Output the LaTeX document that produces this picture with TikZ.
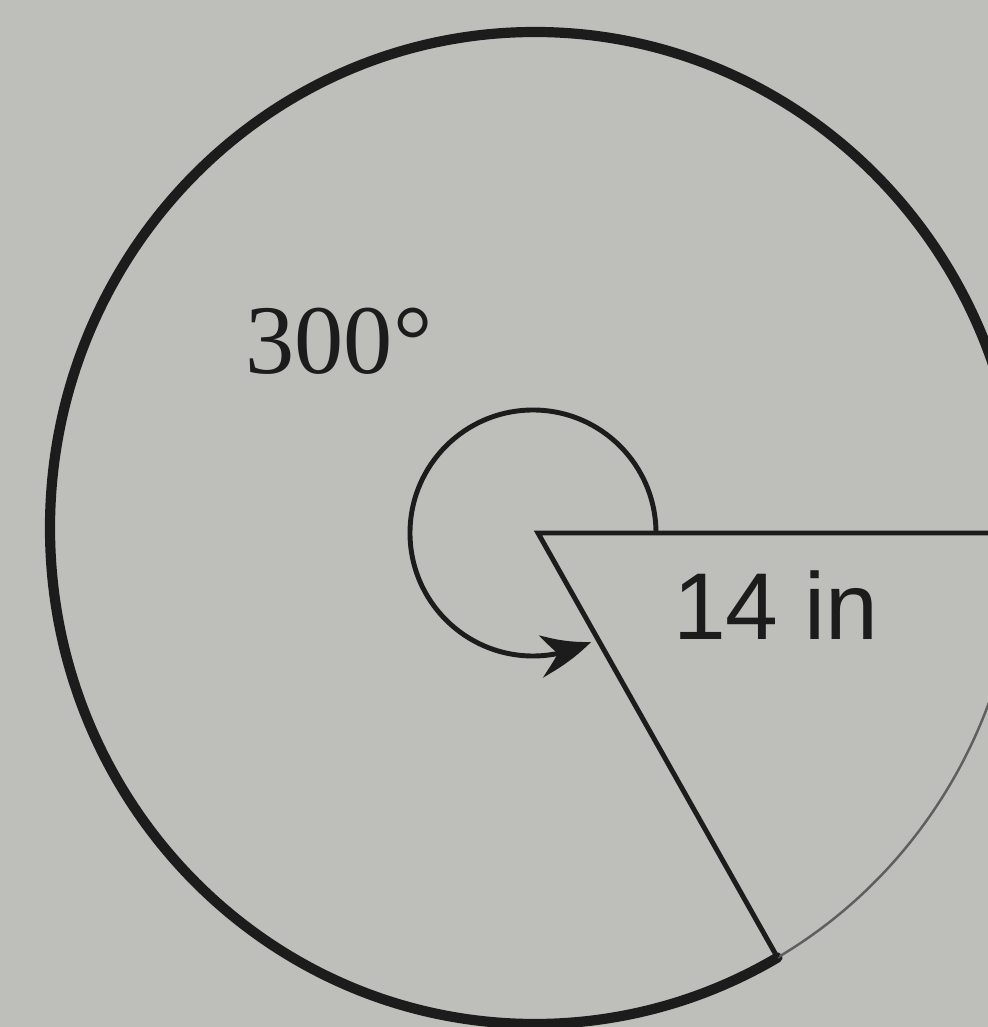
\documentclass[tikz,border=0pt]{standalone}
\usepackage{fontspec}
\setmainfont{Liberation Serif}
\newfontfamily\labelsans{Liberation Sans}
\usetikzlibrary{arrows.meta,bending,calc}
\definecolor{paper}{RGB}{190,190,187}
\definecolor{ink}{RGB}{28,28,28}
\definecolor{faint}{RGB}{95,95,95}
\tikzset{
  rim/.style={draw=ink,line width=2.9pt,line cap=round},
  rimthin/.style={draw=faint,line width=0.7pt},
  radiusline/.style={draw=ink,line width=1.4pt,line join=miter},
  anglearc/.style={draw=ink,line width=1.4pt,-{Stealth[length=5.2mm,width=4.2mm,bend]}},
  serlabel/.style={inner sep=0pt,text=ink,font=\fontsize{28}{30}\selectfont},
  sanslabel/.style={inner sep=0pt,text=ink,font=\labelsans\fontsize{27}{30}\selectfont}
}
\begin{document}
\begin{tikzpicture}
\useasboundingbox (0,0) rectangle (9.88,10.27);
\fill[paper] (0,0) rectangle (9.88,10.27);
\clip (0,0) rectangle (9.88,10.27);
\coordinate (C) at (5.35,4.99);
\coordinate (O) at (5.38,4.94);
\coordinate (A) at ($(C)+(4.85,0)$);
\coordinate (B) at ($(C)+({4.85*cos(-60)},{4.96*sin(-60)})$);
\coordinate (E) at (10.4,4.94);
% thick 300 degree arc
\draw[rim] (A) arc[start angle=0,end angle=300,x radius=4.85,y radius=4.96];
% faint remaining arc
\draw[rimthin] (B) arc[start angle=-60,end angle=0,x radius=4.85,y radius=4.96];
% radii
\draw[radiusline] (E) -- (O) -- (B);
% angle marker
\coordinate (S) at ($(O)+(0:1.18)$);
\draw[anglearc] (S) arc[start angle=0,end angle=298,radius=1.23];
% labels
\node[serlabel] (deg) at (3.39,6.86) {300°};
\node[sanslabel] (len) at (7.76,4.22) {14 in};
\end{tikzpicture}
\end{document}
